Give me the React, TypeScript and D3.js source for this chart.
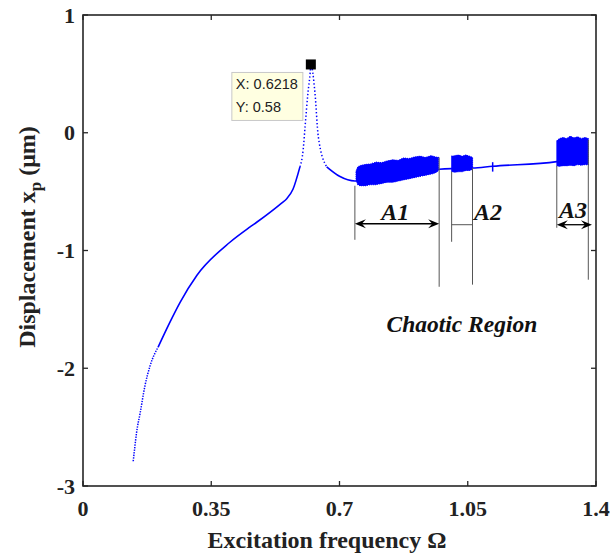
import React from "react";
import * as d3 from "d3";

// ---- data ----
const xTicks = [0, 0.35, 0.7, 1.05, 1.4];
const xTickLabels = ["0", "0.35", "0.7", "1.05", "1.4"];
const yTicks = [1, 0, -1, -2, -3];
const yTickLabels = ["1", "0", "-1", "-2", "-3"];

// main response curve [Ω, x_p]
const curveOmega = [0.137, 0.141, 0.146, 0.156, 0.169, 0.183, 0.205, 0.237, 0.265, 0.311, 0.401, 0.456, 0.474, 0.542, 0.556, 0.573, 0.592, 0.601, 0.606, 0.614, 0.620, 0.6218, 0.633, 0.642, 0.665, 0.70, 0.742, 0.972, 1.006, 1.063, 1.118, 1.293, 1.379];
const curveDisp = [-2.79, -2.68, -2.55, -2.38, -2.15, -1.98, -1.82, -1.61, -1.44, -1.21, -0.93, -0.80, -0.76, -0.597, -0.56, -0.48, -0.29, -0.14, 0.05, 0.34, 0.51, 0.58, 0.34, -0.03, -0.29, -0.37, -0.41, -0.31, -0.305, -0.30, -0.285, -0.245, -0.2];

// chaotic bands: Ω, lower envelope, upper envelope
const bandA1Omega = [0.745, 0.750, 0.756, 0.770, 0.785, 0.800, 0.815, 0.830, 0.845, 0.860, 0.875, 0.890, 0.905, 0.920, 0.935, 0.950, 0.962, 0.970];
const bandA1Low = [-0.40, -0.44, -0.45, -0.45, -0.44, -0.44, -0.43, -0.42, -0.42, -0.41, -0.40, -0.39, -0.38, -0.37, -0.36, -0.35, -0.34, -0.32];
const bandA1High = [-0.33, -0.29, -0.28, -0.27, -0.265, -0.25, -0.255, -0.24, -0.23, -0.235, -0.215, -0.22, -0.205, -0.20, -0.21, -0.195, -0.205, -0.21];
const bandA2Omega = [1.006, 1.015, 1.025, 1.035, 1.045, 1.055, 1.063];
const bandA2Low = [-0.33, -0.335, -0.33, -0.33, -0.32, -0.32, -0.31];
const bandA2High = [-0.20, -0.195, -0.19, -0.20, -0.19, -0.20, -0.21];
const bandA3Omega = [1.293, 1.300, 1.310, 1.320, 1.330, 1.340, 1.350, 1.360, 1.370, 1.379];
const bandA3Low = [-0.28, -0.285, -0.28, -0.28, -0.275, -0.28, -0.27, -0.275, -0.27, -0.27];
const bandA3High = [-0.07, -0.05, -0.04, -0.05, -0.03, -0.045, -0.035, -0.05, -0.04, -0.05];

// small isolated spike
const spikeOmega = [1.118];
const spikeLow = [-0.33];
const spikeHigh = [-0.25];

// region markers
const regionNames = ["A1", "A2", "A3"];
const regionStart = [0.742, 1.006, 1.293];
const regionEnd = [0.972, 1.063, 1.379];
const peakX = 0.6218;
const peakY = 0.58;

const W = 611;
const H = 553;
const L = 83, R = 596, T = 15, B = 486;

const SERIF = "Liberation Serif, Times New Roman, serif";
const SANS = "Liberation Sans, Arial, sans-serif";

export default function App() {
  const x = d3.scaleLinear().domain([0, 1.4]).range([L, R]);
  const y = d3.scaleLinear().domain([-3, 1]).range([B, T]);

  const pts = curveOmega.map((o, i) => [o, curveDisp[i]] as [number, number]);
  const line = d3
    .line<[number, number]>()
    .x((d) => x(d[0]))
    .y((d) => y(d[1]))
    .curve(d3.curveMonotoneX);

  const solidA = pts.filter((d) => d[0] >= 0.205 && d[0] <= 0.592);
  const steepStart = pts.filter((d) => d[0] <= 0.205);
  const peakPart = pts.filter((d) => d[0] >= 0.592 && d[0] <= 0.665);
  const tail = pts.filter((d) => d[0] >= 0.665);

  const area = d3
    .area<[number, number, number]>()
    .x((d) => x(d[0]))
    .y0((d) => y(d[1]))
    .y1((d) => y(d[2]))
    .curve(d3.curveLinear);

  const mk = (o: number[], lo: number[], hi: number[]) =>
    o.map((v, i) => [v, lo[i], hi[i]] as [number, number, number]);
  const bands = [
    mk(bandA1Omega, bandA1Low, bandA1High),
    mk(bandA2Omega, bandA2Low, bandA2High),
    mk(bandA3Omega, bandA3Low, bandA3High),
  ];

  const blue = "#0000ff";
  const axisColor = "#262626";

  // guide lines [Ω, top value, bottom value]
  const guides: [number, number, number][] = [
    [regionStart[0], -0.45, -0.909],
    [regionEnd[0], -0.21, -1.308],
    [regionStart[1], -0.33, -0.926],
    [regionEnd[1], -0.30, -1.29],
    [regionStart[2], -0.28, -0.807],
    [regionEnd[2], -0.06, -1.248],
  ];

  const arrowHead = (tipX: number, tipY: number, dir: number) => {
    const len = 11, half = 4.5, notch = 7;
    return `M${tipX},${tipY} L${tipX - dir * len},${tipY - half} L${tipX - dir * notch},${tipY} L${tipX - dir * len},${tipY + half} Z`;
  };

  const a1y = y(-0.773);
  const a2y = y(-0.781);
  const a3y = y(-0.781);
  const a3end = x(1.389);

  const px = x(peakX), py = y(peakY);
  const boxW = 71, boxH = 48;
  const boxX = px - 79, boxY = py + 8;

  const tickLen = 5;
  const serifStyle = { fontFamily: SERIF };

  return (
    <svg
      width={W}
      height={H}
      style={{ position: "absolute", left: 0, top: 0, background: "#fff", fontFamily: SERIF }}
    >
      <rect x={0} y={0} width={W} height={H} fill="#fff" />

      {/* data */}
      <path d={line(solidA) || ""} fill="none" stroke={blue} strokeWidth={1.6} />
      <path d={line(steepStart) || ""} fill="none" stroke={blue} strokeWidth={1.5} strokeDasharray="1.4 1.2" />
      <path d={line(peakPart) || ""} fill="none" stroke={blue} strokeWidth={1.5} strokeDasharray="1.4 2.2" />
      <path d={line(tail) || ""} fill="none" stroke={blue} strokeWidth={1.6} />
      {bands.map((b, i) => (
        <path key={i} d={area(b) || ""} fill={blue} stroke={blue} strokeWidth={1.2} strokeDasharray="1 1" />
      ))}
      {bands.map((b, i) => (
        <path key={"f" + i} d={area(b) || ""} fill={blue} stroke="none" />
      ))}
      {spikeOmega.map((o, i) => (
        <line key={i} x1={x(o)} x2={x(o)} y1={y(spikeLow[i])} y2={y(spikeHigh[i])} stroke={blue} strokeWidth={1.5} />
      ))}

      {/* peak marker and data tip */}
      <rect x={px - 5} y={py - 5} width={10} height={10} fill="#000" />
      <rect x={boxX} y={boxY} width={boxW} height={boxH} fill="#ffffe1" stroke="#c8c8c8" strokeWidth={1} />
      <text x={boxX + 4} y={boxY + 17} style={{ fontFamily: SANS }} fontSize={14.5} fill="#222">
        X: 0.6218
      </text>
      <text x={boxX + 4} y={boxY + 40} style={{ fontFamily: SANS }} fontSize={14.5} fill="#222">
        Y: 0.58
      </text>

      {/* region guides */}
      {guides.map((g, i) => (
        <line key={i} x1={x(g[0])} x2={x(g[0])} y1={y(g[1])} y2={y(g[2])} stroke="#555" strokeWidth={1} />
      ))}
      {/* A1 double arrow */}
      <line x1={x(regionStart[0]) + 6} x2={x(regionEnd[0]) - 6} y1={a1y} y2={a1y} stroke="#000" strokeWidth={1.3} />
      <path d={arrowHead(x(regionStart[0]), a1y, -1)} fill="#000" />
      <path d={arrowHead(x(regionEnd[0]), a1y, 1)} fill="#000" />
      {/* A2 plain line */}
      <line x1={x(regionStart[1])} x2={x(regionEnd[1])} y1={a2y} y2={a2y} stroke="#555" strokeWidth={1} />
      {/* A3 double arrow */}
      <line x1={x(regionStart[2]) + 6} x2={a3end - 6} y1={a3y} y2={a3y} stroke="#000" strokeWidth={1.3} />
      <path d={arrowHead(x(regionStart[2]), a3y, -1)} fill="#000" />
      <path d={arrowHead(a3end, a3y, 1)} fill="#000" />

      {regionNames.map((n, i) => {
        const cx = [x(0.852), x(1.105), x(1.337)][i];
        const by = [y(-0.739), y(-0.739), y(-0.722)][i];
        return (
          <text key={n} x={cx} y={by} textAnchor="middle" style={serifStyle} fontSize={24} fontWeight="bold" fontStyle="italic" fill="#111">
            {n}
          </text>
        );
      })}
      <text x={x(1.034)} y={y(-1.69)} textAnchor="middle" style={serifStyle} fontSize={23.5} fontWeight="bold" fontStyle="italic" fill="#111">
        Chaotic Region
      </text>

      {/* axes box */}
      <rect x={L} y={T} width={R - L} height={B - T} fill="none" stroke={axisColor} strokeWidth={1.6} />
      {xTicks.map((t, i) => (
        <g key={"xt" + i}>
          <line x1={x(t)} x2={x(t)} y1={B} y2={B - tickLen} stroke={axisColor} strokeWidth={1.3} />
          <line x1={x(t)} x2={x(t)} y1={T} y2={T + tickLen} stroke={axisColor} strokeWidth={1.3} />
          <text x={x(t)} y={516} textAnchor="middle" style={serifStyle} fontSize={22} fontWeight="bold" fill="#222">
            {xTickLabels[i]}
          </text>
        </g>
      ))}
      {yTicks.map((t, i) => (
        <g key={"yt" + i}>
          <line x1={L} x2={L + tickLen} y1={y(t)} y2={y(t)} stroke={axisColor} strokeWidth={1.3} />
          <line x1={R} x2={R - tickLen} y1={y(t)} y2={y(t)} stroke={axisColor} strokeWidth={1.3} />
          <text x={75} y={y(t)} dy="0.35em" textAnchor="end" style={serifStyle} fontSize={22} fontWeight="bold" fill="#222">
            {yTickLabels[i]}
          </text>
        </g>
      ))}

      {/* axis labels */}
      <text x={327} y={548} textAnchor="middle" style={serifStyle} fontSize={24} fontWeight="bold" fill="#222">
        Excitation frequency Ω
      </text>
      <text transform="translate(35,237) rotate(-90)" textAnchor="middle" style={serifStyle} fontSize={24} fontWeight="bold" fill="#222">
        Displacement x
        <tspan fontSize={17} dy={6}>p</tspan>
        <tspan dy={-6}> (μm)</tspan>
      </text>
    </svg>
  );
}
